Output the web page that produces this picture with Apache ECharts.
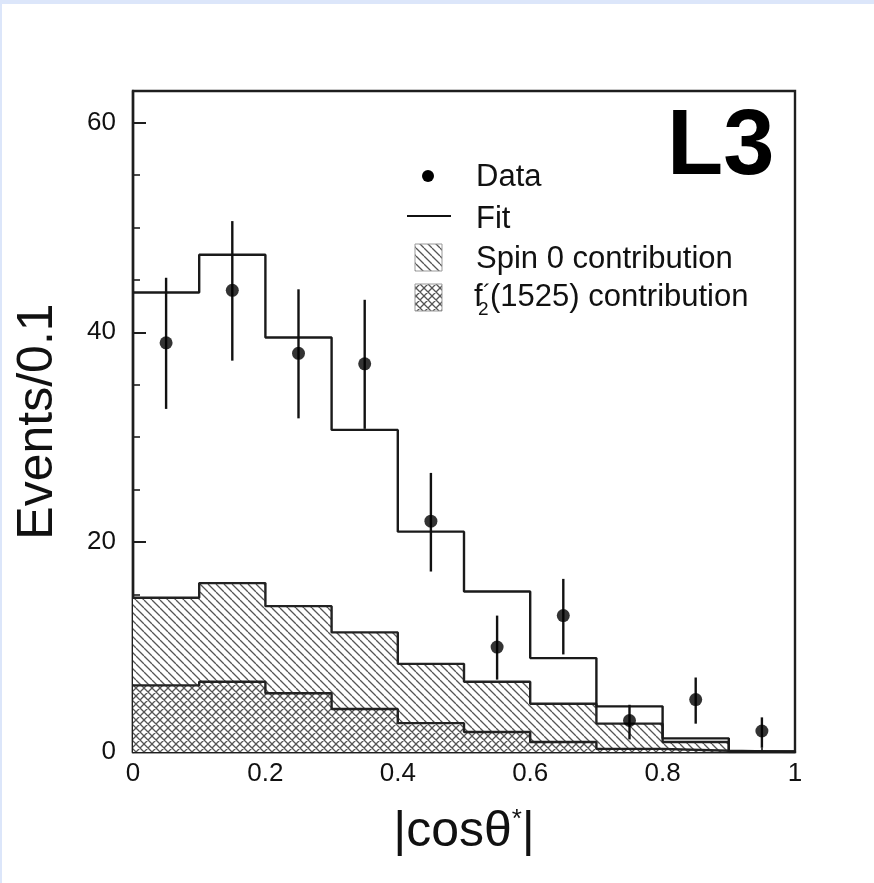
<!DOCTYPE html>
<html><head><meta charset="utf-8">
<script src="https://cdn.jsdelivr.net/npm/echarts@6/dist/echarts.min.js"></script>
<style>html,body{margin:0;padding:0;background:#fff}#c{width:874px;height:883px}</style>
</head><body><div id="c"></div>
<script>
// ---- data ----
const binEdges = [0, 0.1, 0.2, 0.3, 0.4, 0.5, 0.6, 0.7, 0.8, 0.9, 1.0];
const binCenters = [0.05, 0.15, 0.25, 0.35, 0.45, 0.55, 0.65, 0.75, 0.85, 0.95];
const dataCounts = [39, 44, 38, 37, 22, 10, 13, 3, 5, 2];
const errLow  = [32.7, 37.3, 31.8, 30.8, 17.2, 6.9, 9.3, 1.2, 2.7, 0.4];
const errHigh = [45.2, 50.6, 44.1, 43.1, 26.6, 13.0, 16.5, 4.5, 7.1, 3.3];
const fitValues   = [43.8, 47.4, 39.5, 30.7, 21.0, 15.3, 8.95, 4.35, 1.3, 0.05];
const spin0Values = [14.7, 16.1, 13.9, 11.4, 8.4, 6.7, 4.6, 2.7, 0.95, 0];
const f2Values    = [6.35, 6.7, 5.6, 4.1, 2.75, 1.9, 0.95, 0.3, 0.12, 0];
const xTickLabels = ['0', '0.2', '0.4', '0.6', '0.8', '1'];
const yTickLabels = ['0', '20', '40', '60'];
const legendLabels = ['Data', 'Fit', 'Spin 0 contribution', '(1525) contribution'];

function stepData(vals) {
  return binEdges.map((x, i) => [x, vals[Math.min(i, vals.length - 1)]]);
}
function makePattern(dirs, bg) {
  const c = document.createElement('canvas');
  c.width = 8; c.height = 8;
  const ctx = c.getContext('2d');
  if (bg) { ctx.fillStyle = bg; ctx.fillRect(0, 0, 8, 8); }
  ctx.strokeStyle = '#555555';
  ctx.lineWidth = 1.3;
  ctx.beginPath();
  dirs.forEach(d => {
    [-8, 0, 8].forEach(o => {
      if (d === 'b') { ctx.moveTo(o, 0); ctx.lineTo(o + 8, 8); }
      else { ctx.moveTo(o + 8, 0); ctx.lineTo(o, 8); }
    });
  });
  ctx.stroke();
  return c;
}
const hatchSingle = { image: makePattern(['b'], '#ffffff'), repeat: 'repeat' };
const hatchCross = { image: makePattern(['b', 'f'], '#ffffff'), repeat: 'repeat' };

const FONT = 'Liberation Sans, Arial, Helvetica, sans-serif';
const chart = echarts.init(document.getElementById('c'));
const axisColor = '#1e1e1e';
const LW = 2.4;

chart.setOption({
  animation: false,
  backgroundColor: '#ffffff',
  grid: { left: 133, right: 79, top: 91, bottom: 131, show: true, borderColor: axisColor, borderWidth: LW, backgroundColor: 'transparent' },
  xAxis: [{
    type: 'value', min: 0, max: 1, interval: 0.1,
    axisLine: { show: true, lineStyle: { color: axisColor, width: LW } },
    axisTick: { inside: true, length: 7, lineStyle: { color: axisColor, width: 1.6 } },
    minorTick: { show: true, splitNumber: 2, length: 4, lineStyle: { color: axisColor, width: 1.6 } },
    splitLine: { show: false },
    axisLabel: {
      fontSize: 26, color: '#111', fontFamily: FONT, margin: 9,
      formatter: v => {
        const k = Math.round(v * 10);
        return k % 2 === 0 ? xTickLabels[k / 2] : '';
      }
    },
    name: '|cosθ{s|*}|', nameLocation: 'middle', nameGap: 55,
    nameTextStyle: { fontSize: 50, color: '#111', fontFamily: FONT,
      rich: { s: { fontSize: 26, color: '#111', fontFamily: FONT, verticalAlign: 'top' } } }
  }],
  yAxis: [{
    type: 'value', min: 0, max: 63, interval: 20,
    axisLine: { show: true, lineStyle: { color: axisColor, width: LW } },
    axisTick: { inside: true, length: 13, lineStyle: { color: axisColor, width: 2 } },
    splitLine: { show: false },
    axisLabel: { fontSize: 26, color: '#111', fontFamily: FONT, margin: 17, showMaxLabel: false,
      formatter: v => { const k = Math.round(v / 20); return (v % 20 === 0 && k < yTickLabels.length) ? yTickLabels[k] : ''; } },
    name: 'Events/0.1', nameLocation: 'middle', nameGap: 70,
    nameTextStyle: { fontSize: 50, color: '#111', fontFamily: FONT }
  }, {
    type: 'value', min: 0, max: 63, interval: 5, position: 'left',
    axisLine: { show: false },
    axisTick: { inside: true, length: 7, lineStyle: { color: axisColor, width: 1.6 } },
    axisLabel: { show: false }, splitLine: { show: false }
  }],
  series: [
    { name: 'Spin 0 contribution', type: 'line', step: 'end', data: stepData(spin0Values), symbol: 'none', z: 2,
      lineStyle: { color: '#222', width: LW }, areaStyle: { color: hatchSingle, opacity: 1 } },
    { name: 'f2 contribution', type: 'line', step: 'end', data: stepData(f2Values), symbol: 'none', z: 3,
      lineStyle: { color: '#222', width: LW }, areaStyle: { color: hatchCross, opacity: 1 } },
    { name: 'Fit', type: 'line', step: 'end', data: stepData(fitValues), symbol: 'none', z: 4,
      lineStyle: { color: '#1a1a1a', width: LW } },
    { name: 'Errors', type: 'custom', z: 5,
      data: binCenters.map((x, i) => [x, errLow[i], errHigh[i]]),
      encode: { x: 0, y: [1, 2] },
      renderItem: (params, api) => {
        const p1 = api.coord([api.value(0), api.value(1)]);
        const p2 = api.coord([api.value(0), api.value(2)]);
        return { type: 'line', shape: { x1: p1[0], y1: p1[1], x2: p2[0], y2: p2[1] },
          style: { stroke: '#111', lineWidth: LW } };
      } },
    { name: 'Data', type: 'scatter', z: 6, symbol: 'circle', symbolSize: 13,
      itemStyle: { color: '#000' },
      data: binCenters.map((x, i) => [x, dataCounts[i]]) }
  ],
  graphic: [
    { type: 'rect', shape: { x: 0, y: 0, width: 874, height: 4 }, style: { fill: '#dce6fa' }, silent: true },
    { type: 'rect', shape: { x: 0, y: 0, width: 2, height: 883 }, style: { fill: '#dce6fa' }, silent: true },
    { type: 'text', left: 667, top: 103, style: { text: 'L3', font: 'bold 92px ' + FONT, fill: '#000' } },
    { type: 'circle', shape: { cx: 428, cy: 176, r: 6 }, style: { fill: '#000' } },
    { type: 'line', shape: { x1: 407, y1: 216, x2: 451, y2: 216 }, style: { stroke: '#111', lineWidth: 2 } },
    { type: 'rect', shape: { x: 415, y: 244, width: 27, height: 27 }, style: { fill: hatchSingle, stroke: '#999', lineWidth: 1 } },
    { type: 'rect', shape: { x: 415, y: 284, width: 27, height: 27 }, style: { fill: hatchCross, stroke: '#999', lineWidth: 1 } },
    { type: 'text', x: 476, y: 177, style: { text: legendLabels[0], font: '31px ' + FONT, fill: '#111', verticalAlign: 'middle' } },
    { type: 'text', x: 476, y: 219, style: { text: legendLabels[1], font: '31px ' + FONT, fill: '#111', verticalAlign: 'middle' } },
    { type: 'text', x: 476, y: 259, style: { text: legendLabels[2], font: '31px ' + FONT, fill: '#111', verticalAlign: 'middle' } },
    { type: 'text', x: 474, y: 297, style: { text: 'f', font: '31px ' + FONT, fill: '#111', verticalAlign: 'middle' } },
    { type: 'text', x: 478, y: 310, style: { text: '2', font: '19px ' + FONT, fill: '#111', verticalAlign: 'middle' } },
    { type: 'text', x: 483, y: 294, style: { text: '´', font: '24px ' + FONT, fill: '#111', verticalAlign: 'middle' } },
    { type: 'text', x: 490, y: 297, style: { text: legendLabels[3], font: '31px ' + FONT, fill: '#111', verticalAlign: 'middle' } }
  ]
});
</script></body></html>
